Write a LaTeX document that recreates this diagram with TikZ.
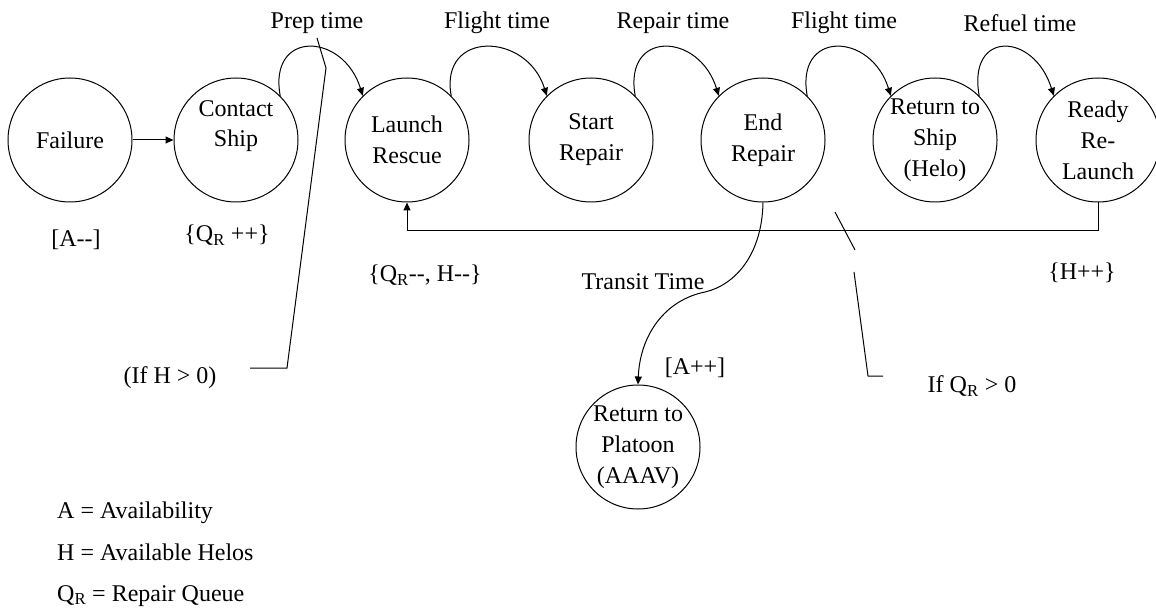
\documentclass[tikz,border=0pt]{standalone}
\usepackage{fontspec}
\setmainfont{Liberation Serif}
\usetikzlibrary{arrows.meta}
\begin{document}
\begin{tikzpicture}[x=1pt,y=-1pt,
  state/.style={draw,circle,line width=1pt,minimum size=124pt,inner sep=0pt,align=center,font=\fontsize{24}{31}\selectfont},
  lbl/.style={font=\fontsize{24}{28}\selectfont,inner sep=0pt,align=center},
  conn/.style={line width=1pt},
  arr/.style={conn,-{Triangle[length=8pt,width=7pt]}},
]
\fill[white] (0,0) rectangle (1156,609);
\useasboundingbox (0,0) rectangle (1156,609);
% states
\node[state] (fail) at (70,140) {Failure};
\node[state] (contact) at (236,140) {};
\node[lbl] (contacttxt) at (236,126) {Contact\\[2pt]Ship};
\node[state] (launch) at (407,140) {Launch\\Rescue};
\node[state] (start) at (591,140) {Start\\Repair};
\node[state] (endr) at (763,140) {End\\Repair};
\node[state] (ship) at (935,140) {Return to\\Ship\\(Helo)};
\node[state] (ready) at (1098,140) {Ready\\Re-\\Launch};
\node[state] (plat) at (638,447) {Return to\\Platoon\\(AAAV)};
% time labels
\node[lbl] (prep) at (317,23) {Prep time};
\node[lbl] (fl1) at (497,23) {Flight time};
\node[lbl] (rep) at (673,23) {Repair time};
\node[lbl] (fl2) at (844,23) {Flight time};
\node[lbl] (ref) at (1020,23) {Refuel time};
% connectors
\draw[arr] (fail) -- (contact);
\draw[arr] (contact.45) .. controls +(-12,-66) and +(-20,-64) .. (launch.135);
\draw[arr] (launch.45) .. controls +(-12,-66) and +(-20,-64) .. (start.135);
\draw[arr] (start.45) .. controls +(-12,-66) and +(-20,-64) .. (endr.135);
\draw[arr] (endr.45) .. controls +(-12,-66) and +(-20,-64) .. (ship.135);
\draw[arr] (ship.45) .. controls +(-12,-66) and +(-20,-64) .. (ready.135);
\draw[arr] (ready.south) -- ++(0,28) -| (launch.south);
\coordinate (tmid) at (705,292);
\draw[arr] (endr.south) .. controls (762,255) and (735,285) .. (tmid)
  .. controls (665,300) and (640,335) .. (plat.north);
% state change labels
\node[lbl] (am) at (76,240) {[A-{}-]};
\node[lbl] (qpp) at (227,235) {\{Q\textsubscript{R} ++\}};
\node[lbl] (qmm) at (425,275) {\{Q\textsubscript{R}-{}-, H-{}-\}};
\node[lbl] (hpp) at (1082,273) {\{H++\}};
\node[lbl] (app) at (695,368) {[A++]};
\node[lbl] (transit) at (643,282) {Transit Time};
\node[lbl] (ifh) at (170,378) {(If H > 0)};
\node[lbl] (ifq) at (972,386) {If Q\textsubscript{R} > 0};
% pointer lines
\coordinate (pa) at (326,68);
\coordinate (pb) at (287,368);
\coordinate (pc) at (250,368);
\draw[conn] (317,38) -- (pa) -- (pb) -- (pc);
\coordinate (qa) at (835,212);
\coordinate (qb) at (855,250);
\coordinate (qc) at (854,272);
\coordinate (qd) at (868,376);
\coordinate (qe) at (883,376);
\draw[conn] (qa) -- (qb);
\draw[conn] (qc) -- (qd) -- (qe);
% legend
\node[lbl,anchor=base west] (lga) at (57,518) {A = Availability};
\node[lbl,anchor=base west] (lgh) at (57,560) {H = Available Helos};
\node[lbl,anchor=base west] (lgq) at (57,601) {Q\textsubscript{R} = Repair Queue};
\end{tikzpicture}
\end{document}
